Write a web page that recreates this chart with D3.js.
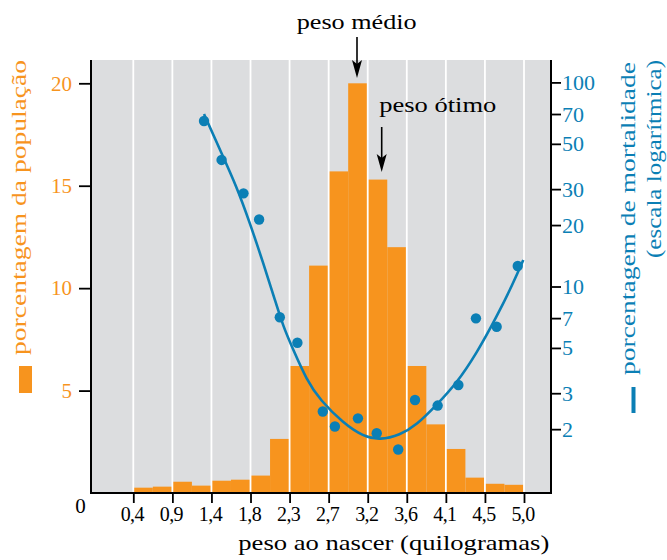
<!DOCTYPE html>
<html><head><meta charset="utf-8">
<script src="https://cdn.jsdelivr.net/npm/d3@7"></script>
<style>body{margin:0;background:#fff} svg{display:block}</style>
</head><body>
<svg id="c" width="667" height="560"></svg>
<script>
// ---- data (x in pounds: 1..11 lb, labelled in kg) ----
const binStart = [1,1.5,2,2.5,3,3.5,4,4.5,5,5.5,6,6.5,7,7.5,8,8.5,9,9.5,10,10.5];
const popPct   = [0.26,0.31,0.55,0.36,0.6,0.65,0.85,2.64,6.2,11.1,15.7,20.0,15.3,12.0,6.2,3.35,2.15,0.75,0.45,0.4];
const mortX = [2.81,3.26,3.82,4.22,4.75,5.20,5.85,6.16,6.75,7.23,7.78,8.21,8.79,9.32,9.77,10.30,10.84];
const mortY = [64.7,41.7,28.6,21.3,7.07,5.3,2.44,2.06,2.26,1.91,1.59,2.78,2.61,3.29,6.98,6.35,12.6];
const fitX = [2.81,3.219,3.647,3.987,4.327,4.626,4.839,5.095,5.438,5.778,6.375,6.887,7.314,7.823,8.254,8.766,9.278,9.789,10.301,10.726,10.982];
const fitY = [70.0,46.7,30.8,20.4,13.0,8.59,6.35,4.89,3.48,2.78,2.14,1.84,1.77,1.87,2.10,2.63,3.36,4.71,7.11,10.4,13.5];
const xTicks = [1,2,3,4,5,6,7,8,9,10,11];
const xTickLabels = ["0,4","0,9","1,4","1,8","2,3","2,7","3,2","3,6","4,1","4,5","5,0"];
const leftTicks = [5,10,15,20];
const rightTicks = [2,3,5,7,10,20,30,50,70,100];
const binWidth = 0.5;

const ORANGE = "#F7941E", BLUE = "#0B7FB5", GRAY = "#DCDDDF";
const FONT = "'Liberation Serif','Times New Roman',serif";

const svg = d3.select("#c");
const P = {left:91, right:551, top:60, bottom:493};
const x  = d3.scaleLinear().domain([1,11]).range([133.3,524]);
const yL = d3.scaleLinear().domain([0,20]).range([P.bottom,83.3]);
const yR = d3.scaleLog().domain([1,100]).range([490.6,82.4]);

// background
svg.append("rect").attr("x",P.left).attr("y",P.top)
  .attr("width",P.right-P.left).attr("height",P.bottom-P.top).attr("fill",GRAY);

// bars
svg.append("g").selectAll("rect").data(binStart).join("rect")
  .attr("x",d=>x(d)).attr("width",d=>x(d+binWidth)-x(d))
  .attr("y",(d,i)=>yL(popPct[i])).attr("height",(d,i)=>P.bottom-yL(popPct[i]))
  .attr("fill",ORANGE);

// white grid lines
svg.append("g").selectAll("line").data(xTicks).join("line")
  .attr("x1",d=>x(d)).attr("x2",d=>x(d)).attr("y1",P.top).attr("y2",P.bottom)
  .attr("stroke","#fff").attr("stroke-width",1.8);

// fit curve
const line = d3.line().x(d=>x(d[0])).y(d=>yR(d[1])).curve(d3.curveBasis);
svg.append("path").datum(fitX.map((v,i)=>[v,fitY[i]])).attr("d",line)
  .attr("fill","none").attr("stroke",BLUE).attr("stroke-width",2.6);

// dots
svg.append("g").selectAll("circle").data(mortX).join("circle")
  .attr("cx",d=>x(d)).attr("cy",(d,i)=>yR(mortY[i])).attr("r",5.2).attr("fill",BLUE);

// axes
function styleAxis(g){
  g.select(".domain").remove();
  g.selectAll(".tick line").attr("stroke","#000").attr("stroke-width",1.8);
  g.selectAll("text").style("font-family",FONT);
}
const gL = svg.append("g").attr("transform",`translate(${P.left},0)`)
  .call(d3.axisLeft(yL).tickValues(leftTicks).tickSize(12).tickPadding(7)).call(styleAxis);
gL.selectAll("text").attr("fill",ORANGE).style("font-size","21px");

const gR = svg.append("g").attr("transform",`translate(${P.right},0)`)
  .call(d3.axisRight(yR).tickValues(rightTicks).tickFormat(d3.format("d")).tickSize(10).tickPadding(1)).call(styleAxis);
gR.selectAll("text").attr("fill",BLUE).style("font-size","22px");

const gB = svg.append("g").attr("transform",`translate(0,${P.bottom})`)
  .call(d3.axisBottom(x).tickValues(xTicks).tickFormat((d,i)=>xTickLabels[i]).tickSize(10)).call(styleAxis);
gB.selectAll("text").attr("fill","#000").style("font-size","20px")
  .attr("y",27.5).attr("dy",0).attr("dx",-1.5).style("letter-spacing","-0.6px");

// axis lines
const ax = svg.append("g").attr("stroke","#000").attr("stroke-width",2);
ax.append("line").attr("x1",P.left).attr("x2",P.left).attr("y1",P.top).attr("y2",P.bottom+1);
ax.append("line").attr("x1",P.right).attr("x2",P.right).attr("y1",P.top).attr("y2",P.bottom+1);
ax.append("line").attr("x1",P.left-1).attr("x2",P.right+1).attr("y1",P.bottom).attr("y2",P.bottom);

// texts
function txt(s, opts){
  const t = svg.append("text").text(s).style("font-family",FONT)
    .style("font-size",(opts.size||22)+"px").attr("fill",opts.fill||"#000");
  if(opts.transform) t.attr("transform",opts.transform); else t.attr("x",opts.x).attr("y",opts.y);
  if(opts.anchor) t.attr("text-anchor",opts.anchor);
  if(opts.len) t.attr("textLength",opts.len).attr("lengthAdjust","spacingAndGlyphs");
  return t;
}
txt("0",{x:80.5,y:513,size:21,anchor:"middle"});
txt("peso ao nascer (quilogramas)",{x:238.3,y:550,size:22,len:311});
txt("porcentagem da população",{transform:"translate(25.5,355) rotate(-90)",size:22,fill:ORANGE,len:295});
svg.append("rect").attr("x",19).attr("y",366).attr("width",13).attr("height",27).attr("fill",ORANGE);
txt("porcentagem de mortalidade",{transform:"translate(634.5,375) rotate(-90)",size:22,fill:BLUE,len:313});
txt("(escala logarítmica)",{transform:"translate(660.5,258) rotate(-90)",size:21,fill:BLUE,len:198});
svg.append("rect").attr("x",631.5).attr("y",387).attr("width",4).attr("height",26).attr("fill",BLUE);

txt("peso médio",{x:296.7,y:29,size:22,len:120});
txt("peso ótimo",{x:379.3,y:112,size:22,len:117});

// arrows
function arrow(xx, y1, y2){
  svg.append("line").attr("x1",xx).attr("x2",xx).attr("y1",y1).attr("y2",y2-10)
    .attr("stroke","#000").attr("stroke-width",1.6);
  svg.append("path").attr("d",`M${xx},${y2} L${xx-5},${y2-18} L${xx},${y2-14} L${xx+5},${y2-18} Z`).attr("fill","#000");
}
arrow(357,37,78);
arrow(381.7,127,172);
</script>
</body></html>
